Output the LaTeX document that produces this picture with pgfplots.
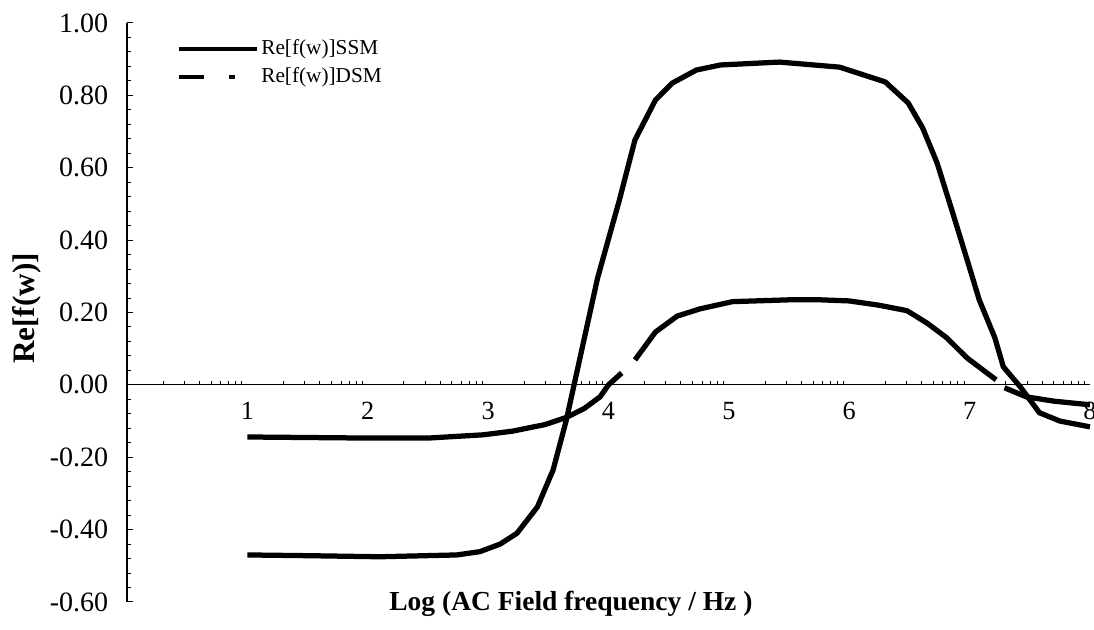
\documentclass[border=0pt]{standalone}
\usepackage{fontspec}
\setmainfont{Liberation Serif}
\usepackage{pgfplots}
\pgfplotsset{compat=1.18}

\begin{document}
\begin{tikzpicture}
\begin{axis}[
    at={(0,0)}, anchor=south west,
    scale only axis,
    width=385.2pt, height=231.6pt,
    xmin=0, xmax=8, ymin=-0.6, ymax=1.0,
    clip=false,
    axis x line*=middle,
    axis y line*=left,
    axis line style={line width=0.5pt},
    tick align=inside,
    xtick={1,2,3,4,5,6,7,8},
    xticklabels={1,2,3,4,5,6,7,8},
    minor xtick={0.301,0.477,0.602,0.699,0.778,0.845,0.903,0.954,
                 1.301,1.477,1.602,1.699,1.778,1.845,1.903,1.954,
                 2.301,2.477,2.602,2.699,2.778,2.845,2.903,2.954,
                 3.301,3.477,3.602,3.699,3.778,3.845,3.903,3.954,
                 4.301,4.477,4.602,4.699,4.778,4.845,4.903,4.954,
                 5.301,5.477,5.602,5.699,5.778,5.845,5.903,5.954,
                 6.301,6.477,6.602,6.699,6.778,6.845,6.903,6.954,
                 7.301,7.477,7.602,7.699,7.778,7.845,7.903,7.954},
    major x tick style={draw=none},
    minor x tick style={line width=0.4pt},
    ytick={-0.6,-0.4,-0.2,0,0.2,0.4,0.6,0.8,1.0},
    yticklabels={-0.60,-0.40,-0.20,0.00,0.20,0.40,0.60,0.80,1.00},
    minor y tick num=4,
    major tick length=2.4pt,
    minor tick length=1.6pt,
    tick style={black, line width=0.4pt},
    xticklabel style={font=\fontsize{10.5}{12}\selectfont, yshift=-3.5pt},
    yticklabel style={font=\fontsize{11.2}{13}\selectfont, xshift=-4pt},
    xlabel={\textbf{Log (AC Field frequency / Hz )}},
    xlabel style={at={(axis description cs:0.461,-0.003)}, anchor=center,
                  font=\fontsize{11}{13}\selectfont},
    ylabel={\textbf{Re[f(w)]}},
    ylabel style={at={(axis description cs:-0.104,0.507)}, anchor=center,
                  font=\fontsize{12.5}{14}\selectfont},
    legend style={draw=none, fill=none, at={(axis description cs:0.044,0.985)},
                  anchor=north west, font=\fontsize{8.5}{10}\selectfont,
                  nodes={inner sep=1pt}, row sep=1.6pt},
    legend cell align=left,
    unbounded coords=jump,
]
\addplot[black, line width=2.1pt, line join=round,
    legend image code/.code={\draw[black, line width=1.6pt] (0pt,0pt) -- (31pt,0pt);}]
coordinates {
    (1,-0.470) (1.5,-0.472) (2.1,-0.475) (2.74,-0.470) (2.93,-0.461)
    (3.1,-0.44) (3.24,-0.41) (3.41,-0.337) (3.54,-0.235) (3.65,-0.097)
    (3.80,0.13) (3.91,0.296) (4.09,0.51) (4.22,0.677) (4.39,0.787)
    (4.53,0.834) (4.73,0.870) (4.93,0.884) (5.42,0.892) (5.92,0.878)
    (6.30,0.837) (6.49,0.779) (6.61,0.71) (6.73,0.613) (6.86,0.475)
    (6.98,0.345) (7.08,0.235) (7.21,0.13) (7.28,0.05) (7.42,-0.005)
    (7.58,-0.077) (7.75,-0.10) (8,-0.116)
};
\addlegendentry{Re[f(w)]SSM}
\addplot[black, line width=2.1pt, line join=round,
    legend image code/.code={\draw[black, line width=1.6pt,
        dash pattern=on 10pt off 10pt on 2.4pt off 10pt] (0pt,0pt) -- (31pt,0pt);}]
coordinates {
    (1,-0.144) (2,-0.147) (2.5,-0.147) (2.96,-0.138) (3.2,-0.128)
    (3.47,-0.11) (3.65,-0.09) (3.80,-0.065) (3.93,-0.033) (4.0,0)
    (4.11,0.033) (4.16,nan) (4.22,0.069) (4.39,0.146) (4.57,0.19)
    (4.76,0.21) (5.03,0.23) (5.5,0.235) (5.76,0.235) (6.0,0.232)
    (6.25,0.22) (6.48,0.205) (6.65,0.17) (6.81,0.13) (6.98,0.074)
    (7.22,0.014) (7.25,nan) (7.29,-0.008) (7.47,-0.033) (7.7,-0.045)
    (8,-0.055)
};
\addlegendentry{Re[f(w)]DSM}
\end{axis}
\pgfresetboundingbox
\useasboundingbox (-50.8pt,-11.2pt) rectangle (386.8pt,240.8pt);
\end{tikzpicture}
\end{document}
